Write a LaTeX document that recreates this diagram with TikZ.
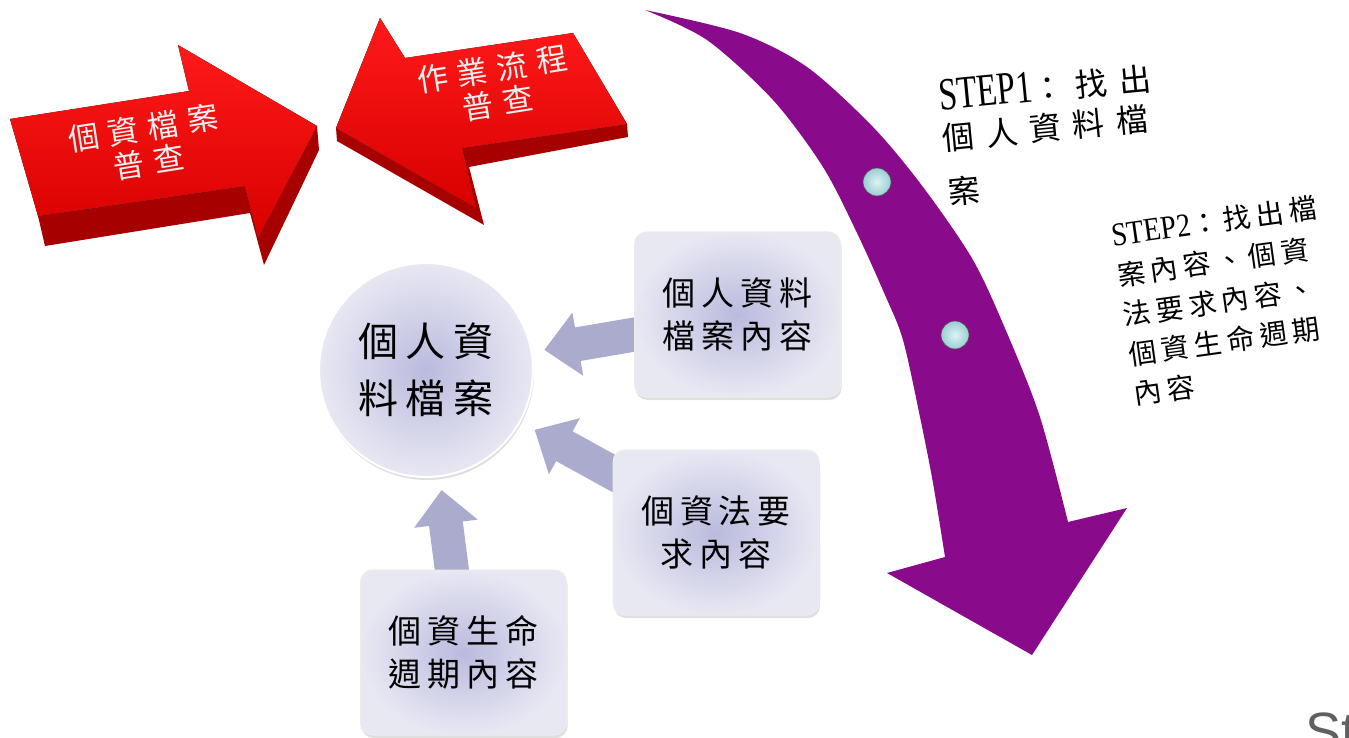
\documentclass[tikz,border=0pt]{standalone}
\usepackage{fontspec}
\setmainfont{Liberation Serif}
\newfontfamily\cjk[LetterSpace=18]{Noto Sans CJK TC}
\newfontfamily\cjkw[LetterSpace=30]{Noto Sans CJK TC}
\newfontfamily\cjkx[LetterSpace=36]{Noto Sans CJK TC}
\newfontfamily\tms[FakeStretch=0.72]{Liberation Serif}
\newfontfamily\tmsb[FakeStretch=0.85]{Liberation Serif}
\newfontfamily\sfx{Liberation Sans}
\usetikzlibrary{arrows.meta,shadows}
\pgfdeclarelayer{bg}
\pgfsetlayers{bg,main}
\definecolor{redface}{HTML}{F00000}
\definecolor{redside}{HTML}{A60000}
\definecolor{purp}{HTML}{8A0A8C}
\definecolor{conncol}{HTML}{ABABCD}
\definecolor{boxin}{HTML}{BABADE}
\definecolor{boxout}{HTML}{E8E8F3}
\definecolor{dotin}{HTML}{DDF3F5}
\definecolor{dotout}{HTML}{9CCDD3}
\begin{document}
\begin{tikzpicture}[x=1pt,y=-1pt,
  box/.style={rounded corners=12pt, draw=white!85!gray, line width=1pt,
    shading=radial, inner color=boxin, outer color=boxout,
    minimum width=206pt, minimum height=165pt, align=center,
    font=\cjk\fontsize{33}{43}\selectfont,
    drop shadow={opacity=0.25,shadow xshift=1pt,shadow yshift=-3pt}},
  hub/.style={circle, minimum size=214pt, inner sep=0pt, draw=white, line width=2pt,
    shading=radial, inner color=boxin, outer color=boxout, align=center,
    font=\cjk\fontsize{40}{57}\selectfont,
    drop shadow={opacity=0.25,shadow xshift=1pt,shadow yshift=-3pt}},
  conn/.style={draw=conncol, line width=34pt, -{Triangle[width=62pt,length=34pt]}},
  redtxt/.style={text=white!88!gray, align=center, font=\cjkw\fontsize{31}{34}\selectfont},
  dot/.style={circle, minimum size=28pt, inner sep=0pt, draw=gray!60!black, line width=0.6pt,
    shading=radial, inner color=dotin, outer color=dotout},
  steptxt/.style={anchor=north west, inner sep=0pt, align=left, text=black}
]
\useasboundingbox (0,0) rectangle (1349,738);
\begin{pgfonlayer}{bg}
\fill[white] (0,0) rectangle (1349,738);
\end{pgfonlayer}

% red arrow 1 (pointing right)
\fill[redside] (38,216) -- (245,186) -- (258,238) -- (317,126) -- (319,150)
  -- (264,265) -- (250,213) -- (45,246) -- cycle;
\fill[top color=red!90!white, bottom color=redface!90!black]
  (10,119) -- (189,91) -- (178,45) -- (317,126) -- (258,238) -- (245,186) -- (38,216) -- cycle;
\node[redtxt, rotate=9] (t1) at (146,145) {個資檔案\\普查};

% red arrow 2 (pointing left)
\fill[redside] (336,128) -- (476,208) -- (462,148) -- (627,124) -- (628,137)
  -- (469,167) -- (484,225) -- (337,141) -- cycle;
\fill[top color=red!90!white, bottom color=redface!90!black]
  (336,128) -- (380,18) -- (405,58) -- (573,33) -- (627,124) -- (462,148) -- (476,208) -- cycle;
\node[redtxt, rotate=9] (t2) at (495,86) {作業流程\\普查};

% purple curved arrow
\fill[purp] plot[smooth] coordinates {(645,10) (740,33) (807,67) (873,127) (923,187)
    (973,260) (1007,333) (1040,417) (1068,522)}
  -- (1127,508) -- (1032,655) -- (887,573) -- (945,557)
  -- plot[smooth] coordinates {(945,557) (933,483) (920,417) (903,340) (885,295)
    (857,233) (823,167) (773,100) (707,40) (645,10)} -- cycle;
\node[dot] (d1) at (877,182) {};
\node[dot] (d2) at (955,335) {};

% step texts
\node[steptxt, rotate=5.5, font=\cjkx\fontsize{32}{46}\selectfont] (s1) at (937,80)
  {{\tms\fontsize{46}{46}\selectfont STEP1}：找出\\[-6pt]個人資料檔\\[8pt]案};
\node[steptxt, rotate=8, font=\cjk\fontsize{28}{40}\selectfont] (s2) at (1110,223)
  {{\tmsb\fontsize{33}{40}\selectfont STEP2}：找出檔\\案內容、個資\\法要求內容、\\個資生命週期\\內容};

% hub and boxes
\node[hub] (c) at (426,370) {個人資\\料檔案};
\node[box] (b1) at (737.5,314.5) {個人資料\\檔案內容};
\node[box] (b2) at (716,532.5) {個資法要\\求內容};
\node[box] (b3) at (463.5,652.5) {個資生命\\週期內容};

\begin{pgfonlayer}{bg}
\draw[conn, shorten <=-12pt, shorten >=12pt] (b1.191) -- (c);
\draw[conn, shorten <=-12pt, shorten >=16pt] (b2.150) -- (c);
\draw[conn, shorten <=-12pt, shorten >=13pt] (b3.98) -- (c);
\end{pgfonlayer}

% corner text
\node[anchor=base west, inner sep=0pt, text=gray!75!black, font=\sfx\fontsize{54}{54}\selectfont] (st) at (1305,750) {St};
\end{tikzpicture}
\end{document}
